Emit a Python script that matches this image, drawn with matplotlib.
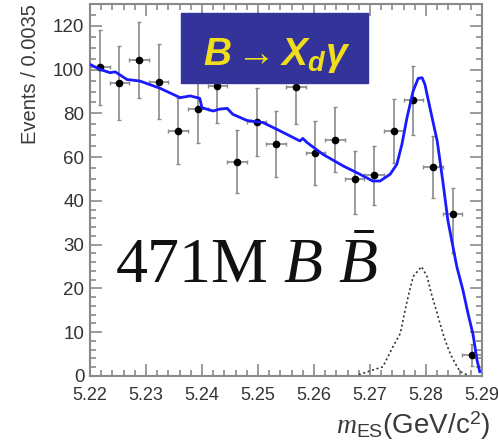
import numpy as np
import matplotlib
matplotlib.use('Agg')
import matplotlib.pyplot as plt
from matplotlib.patches import Rectangle
from matplotlib.ticker import FixedLocator

# data points (bin centres, events, errors)
bin_centers = [5.22175, 5.22525, 5.22875, 5.23225, 5.23575, 5.23925, 5.24275, 5.24625,
               5.24975, 5.25325, 5.25675, 5.26025, 5.26375, 5.26725, 5.27075, 5.27425,
               5.27775, 5.28125, 5.28475, 5.28825]
events = [101, 94, 104.5, 94.5, 72, 82, 92.5, 58, 76, 66, 92, 62, 68, 50, 52, 72, 86, 55.5, 37, 4.8]
errors = [17, 17, 17.5, 17, 15, 15.5, 17, 14.5, 15.6, 15, 17, 14.6, 15, 13, 13, 14.7, 15.7, 14, 9, 2.5]
bin_half = 0.00175

# total fit (blue)
fit_m = [5.2200, 5.2218, 5.2236, 5.2245, 5.2254, 5.2266, 5.2289, 5.2325, 5.2361, 5.2379,
         5.2396, 5.2400, 5.2420, 5.2432, 5.2445, 5.2455, 5.2480, 5.2509, 5.2534, 5.2575,
         5.2580, 5.2588, 5.2616, 5.2652, 5.2682, 5.2705, 5.2718, 5.2736, 5.2748, 5.2757,
         5.2766, 5.2777, 5.2786, 5.2793, 5.2798, 5.2807, 5.2820, 5.2830, 5.2839, 5.2855,
         5.2866, 5.2875, 5.2884, 5.2891, 5.2896]
fit_y = [102.4, 100.1, 98.6, 99.0, 97.5, 95.5, 94.8, 91.5, 87.2, 88.0,
         86.9, 82.6, 81.1, 82.0, 82.3, 79.6, 76.8, 75.8, 72.7, 67.4,
         68.6, 66.6, 61.3, 56.0, 52.2, 49.1, 49.1, 52.2, 56.8, 65.9,
         78.0, 90.2, 96.0, 96.3, 93.3, 82.6, 67.4, 49.1, 35.6, 25.0,
         19.6, 14.3, 9.5, 3.7, 1.0]

# signal component (dotted)
sig_m = [5.2680, 5.2696, 5.2723, 5.2741, 5.2754, 5.2766, 5.2777, 5.2792, 5.2802, 5.2811,
         5.2820, 5.2825, 5.2834, 5.2843, 5.2852, 5.2861, 5.2873]
sig_y = [0.3, 1.0, 2.1, 6.7, 9.7, 17.0, 22.7, 25.0, 22.7, 18.1,
         14.3, 12.0, 8.2, 5.2, 2.9, 1.0, 0.3]

x_ticks = [5.22, 5.23, 5.24, 5.25, 5.26, 5.27, 5.28, 5.29]
y_ticks = [0, 10, 20, 30, 40, 60, 80, 100, 120]

plt.rcParams['mathtext.fontset'] = 'custom'
plt.rcParams['mathtext.rm'] = 'Liberation Serif'
plt.rcParams['mathtext.it'] = 'Liberation Serif:italic'
plt.rcParams['mathtext.sf'] = 'Liberation Sans'
plt.rcParams['mathtext.bfit'] = 'Liberation Sans:italic:bold'


def fwd(y):
    y = np.asarray(y, dtype=float)
    return np.where(y < 40, 2 * y, y + 40)


def inv(u):
    u = np.asarray(u, dtype=float)
    return np.where(u < 80, u / 2, u - 40)


fig = plt.figure(figsize=(4.98, 4.41), dpi=100)
ax = fig.add_axes([90 / 498, 65 / 441, 392 / 498, 372 / 441])
ax.set_yscale('function', functions=(fwd, inv))

ax.errorbar(bin_centers, events, yerr=errors, xerr=bin_half, fmt='o', color='black',
            ms=4.5, ecolor='#8a8a8a', elinewidth=1.2, capsize=1.5, zorder=3)
ax.plot(fit_m, fit_y, color='#1a1aff', lw=2, zorder=4)
ax.plot(sig_m, sig_y, color='#333333', lw=1.2, ls=(0, (1.2, 1.6)), zorder=2)

ax.set_xlim(5.22, 5.29)
ax.set_ylim(0, 130)
ax.set_xticks(x_ticks)
ax.set_xticklabels(['%.2f' % v for v in x_ticks])
ax.set_yticks(y_ticks)
ax.set_yticklabels([str(v) for v in y_ticks])
ax.xaxis.set_minor_locator(FixedLocator(list(np.arange(5.22, 5.2901, 0.002))))
ax.yaxis.set_minor_locator(FixedLocator(list(range(0, 40, 2)) + list(range(40, 131, 5))))

for s in ax.spines.values():
    s.set_color('#8a8a8a')
    s.set_linewidth(1.5)
ax.tick_params(which='both', direction='in', top=True, right=True, color='#8a8a8a', width=1.2)
ax.tick_params(which='major', length=8.5)
ax.tick_params(which='minor', length=4.5)
ax.tick_params(axis='x', pad=8)
ax.tick_params(axis='y', pad=4)
for lab in ax.get_xticklabels():
    lab.set_fontfamily('Liberation Sans')
    lab.set_fontsize(13)
    lab.set_color('#333333')
for lab in ax.get_yticklabels():
    lab.set_fontfamily('Liberation Sans')
    lab.set_fontsize(13.5)
    lab.set_color('#333333')

fig.text(30 / 498, 1 - 4 / 441, 'Events / 0.0035', rotation=90, ha='center', va='top',
         fontsize=14.5, color='#3a3a3a', family='Liberation Sans')
fig.text(490 / 498, 1 - 434 / 441, r'$m_{\mathsf{ES}}$(GeV/c$^{\mathsf{2}}$)', ha='right',
         va='baseline', fontsize=20, color='#3a3a3a', family='Liberation Sans')

# label box
fig.add_artist(Rectangle((181 / 498, 1 - 83 / 441), 187 / 498, 70 / 441,
                         transform=fig.transFigure, color='#333399', zorder=5))
fig.text(277 / 498, 1 - 65 / 441, r'$\mathbfit{B\rightarrow X_d\gamma}$', ha='center',
         va='baseline', fontsize=28, color='#f0de1c', zorder=6)

fig.text(115 / 498, 1 - 283 / 441, r'471M $B$ $\bar{B}$', ha='left', va='baseline',
         fontsize=46, color='#111111', family='Liberation Serif', zorder=6)

fig.savefig('out.png', dpi=100)
